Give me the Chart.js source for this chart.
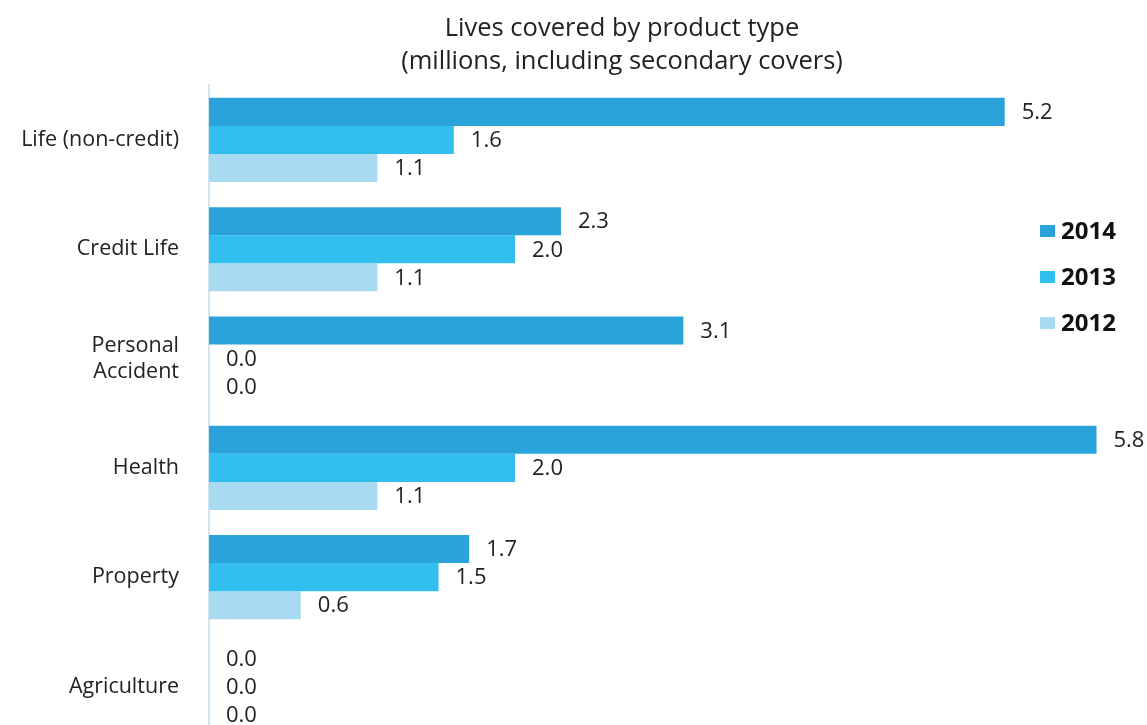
<!DOCTYPE html>
<html>
<head>
<meta charset="utf-8">
<script src="https://cdn.jsdelivr.net/npm/chart.js@4/dist/chart.umd.min.js"></script>
<style>
  html, body { margin: 0; padding: 0; background: #fff; overflow: hidden; }
  #wrap { position: relative; width: 1147px; height: 725px; overflow: hidden; }
</style>
</head>
<body>
<div id="wrap"><canvas id="livesChart"></canvas></div>
<script>
// 상품 유형별 가입자 수 (백만 명)
var categories = [['Life (non-credit)'], ['Credit Life'], ['Personal', 'Accident'], ['Health'], ['Property'], ['Agriculture']];
var years = ['2014', '2013', '2012'];
var values2014 = [5.2, 2.3, 3.1, 5.8, 1.7, 0.0];
var values2013 = [1.6, 2.0, 0.0, 2.0, 1.5, 0.0];
var values2012 = [1.1, 1.1, 0.0, 1.1, 0.6, 0.0];
var colors = ['#29a3da', '#33bfee', '#a8dbf2'];

var fontFamily = '"Open Sans", "Liberation Sans", sans-serif';

// 막대 끝에 값 표시 + 오른쪽 범례
var valueLabels = {
	id: 'valueLabels',
	afterDatasetsDraw: function(chart) {
		var ctx = chart.ctx;
		ctx.save();
		ctx.font = '22px ' + fontFamily;
		ctx.fillStyle = '#222';
		ctx.textBaseline = 'middle';
		ctx.textAlign = 'left';
		chart.data.datasets.forEach(function(ds, i) {
			var meta = chart.getDatasetMeta(i);
			meta.data.forEach(function(bar, j) {
				ctx.fillText(ds.data[j].toFixed(1), bar.x + 17, bar.y + 1);
			});
		});

		// 범례
		ctx.font = 'bold 24px ' + fontFamily;
		chart.data.datasets.forEach(function(ds, i) {
			var y = 231 + i * 46;
			ctx.fillStyle = ds.backgroundColor;
			ctx.fillRect(1040, y - 6, 15, 12);
			ctx.fillStyle = '#111';
			ctx.fillText(ds.label, 1061, y + 1);
		});
		ctx.restore();
	}
};

var data = {
	labels: categories,
	datasets: [
		{ label: years[0], data: values2014, backgroundColor: colors[0] },
		{ label: years[1], data: values2013, backgroundColor: colors[1] },
		{ label: years[2], data: values2012, backgroundColor: colors[2] }
	]
};

var options = {
	indexAxis: 'y',
	responsive: false,
	animation: false,
	// 제목을 오른쪽으로 치우치게 하려고 오른쪽 여백을 음수로 둠
	layout: { padding: { left: 0, right: -97, top: 0, bottom: 0 } },
	datasets: { bar: { categoryPercentage: 0.77, barPercentage: 1.0 } },
	plugins: {
		legend: { display: false },
		tooltip: { enabled: false },
		title: {
			display: true,
			text: ['Lives covered by product type', '(millions, including secondary covers)'],
			color: '#222',
			font: { family: fontFamily, size: 25.5, weight: 'normal', lineHeight: 1.3 },
			padding: { top: 12, bottom: 7 }
		}
	},
	scales: {
		x: {
			display: false,
			min: 0,
			max: 6.13
		},
		y: {
			grid: { display: false, drawTicks: false },
			border: { display: true, color: '#d3e5f0', width: 2 },
			ticks: {
				color: '#222',
				padding: 30,
				font: { family: fontFamily, size: 21.5 }
			},
			afterFit: function(scale) { scale.width = 209; }
		}
	}
};

var canvas = document.getElementById('livesChart');
canvas.width = 1147;
canvas.height = 784;
new Chart(canvas, { type: 'bar', data: data, options: options, plugins: [valueLabels] });
</script>
</body>
</html>
